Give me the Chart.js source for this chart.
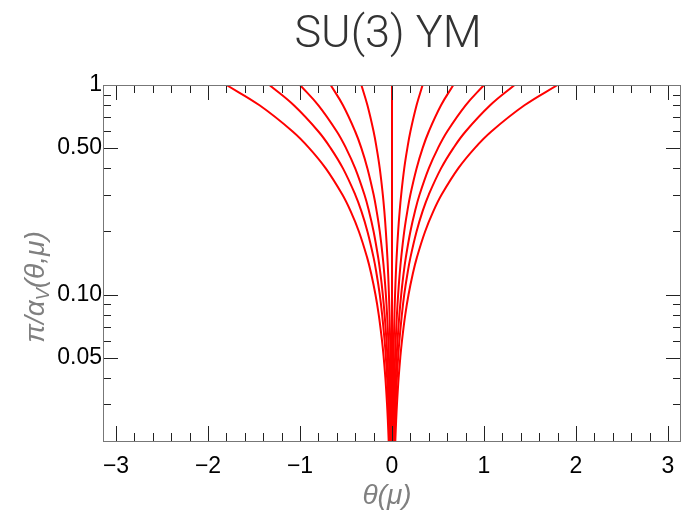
<!DOCTYPE html>
<html>
<head>
<meta charset="utf-8">
<script src="https://cdn.jsdelivr.net/npm/chart.js@4/dist/chart.umd.min.js"></script>
<style>
  html, body { margin: 0; padding: 0; background: #fff; }
</style>
</head>
<body>
<canvas id="fanChart" width="681" height="512"></canvas>
<script>
// --- data ---
const titleText = 'SU(3) YM';
const xTitle = 'θ(μ)';

// y levels shared by every curve
const yLevels = [0.02, 0.025, 0.03, 0.04, 0.05, 0.06, 0.08, 0.1, 0.125, 0.15, 0.2, 0.25, 0.3, 0.4, 0.5, 0.6, 0.8, 1];

// right-hand curves, x at each y level (left ones are the mirror)
const curveA = [0.0067, 0.0083, 0.010, 0.0133, 0.0167, 0.020, 0.0267, 0.0333, 0.0417, 0.050, 0.0667, 0.0833, 0.100, 0.133, 0.167, 0.200, 0.267, 0.333];
const curveB = [0.0133, 0.0167, 0.020, 0.0267, 0.0333, 0.040, 0.0533, 0.0667, 0.0833, 0.100, 0.133, 0.167, 0.200, 0.267, 0.333, 0.400, 0.533, 0.667];
const curveC = [0.020, 0.025, 0.030, 0.040, 0.050, 0.060, 0.080, 0.100, 0.125, 0.150, 0.200, 0.250, 0.300, 0.400, 0.500, 0.600, 0.800, 1.000];
const curveD = [0.0267, 0.0333, 0.040, 0.0533, 0.0667, 0.080, 0.107, 0.133, 0.167, 0.200, 0.267, 0.333, 0.400, 0.533, 0.667, 0.800, 1.067, 1.333];
const curveE = [0.036, 0.045, 0.054, 0.072, 0.090, 0.108, 0.144, 0.180, 0.225, 0.270, 0.360, 0.450, 0.540, 0.720, 0.900, 1.080, 1.440, 1.800];
const centerX = [0, 0];
const centerY = [0.02, 1];

const xMajor = [-3, -2, -1, 0, 1, 2, 3];
const xMinor = [-2.8, -2.6, -2.4, -2.2, -1.8, -1.6, -1.4, -1.2, -0.8, -0.6, -0.4, -0.2,
                0.2, 0.4, 0.6, 0.8, 1.2, 1.4, 1.6, 1.8, 2.2, 2.4, 2.6, 2.8];
const yMajor = [1, 0.5, 0.1, 0.05];
const yMajorLabels = ['1', '0.50', '0.10', '0.05'];
const yMinor = [0.03, 0.04, 0.06, 0.07, 0.08, 0.09, 0.2, 0.3, 0.4, 0.6, 0.7, 0.8, 0.9];

const rightCurves = [curveA, curveB, curveC, curveD, curveE];

function lineSet(points) {
  return {
    data: points,
    showLine: true,
    borderColor: '#ff0000',
    borderWidth: 2,
    pointRadius: 0,
    tension: 0.4,
    fill: false
  };
}

const datasets = [];
rightCurves.forEach((c) => {
  datasets.push(lineSet(yLevels.map((yv, i) => ({x: -c[i], y: yv}))));
  datasets.push(lineSet(yLevels.map((yv, i) => ({x: c[i], y: yv}))));
});
datasets.push(lineSet(centerX.map((xv, i) => ({x: xv, y: centerY[i]}))));

// box, inward ticks and the titles
const boxPlugin = {
  id: 'boxPlugin',
  afterDatasetsDraw(chart) {
    const {ctx, chartArea: a, scales} = chart;
    const sx = scales.x, sy = scales.y;
    const r = (v) => Math.round(v) + 0.5;
    ctx.save();
    ctx.lineWidth = 1;
    ctx.strokeStyle = '#222';
    ctx.beginPath();
    const xt = (v, len) => {
      const p = r(sx.getPixelForValue(v));
      ctx.moveTo(p, a.bottom); ctx.lineTo(p, a.bottom - len);
      ctx.moveTo(p, a.top); ctx.lineTo(p, a.top + len);
    };
    const yt = (v, len) => {
      const p = r(sy.getPixelForValue(v));
      ctx.moveTo(a.left, p); ctx.lineTo(a.left + len, p);
      ctx.moveTo(a.right, p); ctx.lineTo(a.right - len, p);
    };
    xMajor.forEach(v => xt(v, 15));
    xMinor.forEach(v => xt(v, 8));
    yMajor.forEach(v => yt(v, 15));
    yMinor.forEach(v => yt(v, 8));
    ctx.stroke();
    ctx.strokeStyle = '#777';
    ctx.strokeRect(r(a.left), r(a.top), Math.round(a.right - a.left) - 1, Math.round(a.bottom - a.top));
    ctx.restore();
  },
  afterDraw(chart) {
    const ctx = chart.ctx;
    ctx.save();
    // main title
    ctx.fillStyle = '#333';
    ctx.font = '300 45px Roboto';
    ctx.textAlign = 'center';
    ctx.textBaseline = 'alphabetic';
    ctx.fillText(titleText, 388, 47);
    // x title
    ctx.fillStyle = '#808080';
    ctx.font = 'italic 28px "Liberation Sans"';
    ctx.textBaseline = 'middle';
    ctx.fillText(xTitle, 387, 496);
    // y title with subscript
    const big = 'italic 28px "Liberation Sans"';
    const small = 'italic 18px "Liberation Sans"';
    const parts = [['π/α', big, 0], ['V', small, 8], ['(θ,μ)', big, 0]];
    let total = 0;
    parts.forEach(p => { ctx.font = p[1]; total += ctx.measureText(p[0]).width; });
    ctx.translate(36, 287);
    ctx.rotate(-Math.PI / 2);
    ctx.textAlign = 'left';
    let x0 = -total / 2;
    parts.forEach(p => {
      ctx.font = p[1];
      ctx.fillText(p[0], x0, p[2]);
      x0 += ctx.measureText(p[0]).width;
    });
    ctx.restore();
  }
};

const fanChart = new Chart(document.getElementById('fanChart'), {
  type: 'scatter',
  data: { datasets: datasets },
  options: {
    responsive: false,
    animation: false,
    layout: { padding: { top: 85, left: 0, right: 0, bottom: 0 } },
    plugins: { legend: { display: false }, tooltip: { enabled: false }, title: { display: false } },
    scales: {
      x: {
        type: 'linear',
        min: -Math.PI,
        max: Math.PI,
        grid: { display: false },
        border: { display: false },
        afterBuildTicks: (s) => { s.ticks = xMajor.map(v => ({value: v})); },
        afterFit: (s) => { s.height = 71; s.paddingLeft = 0; s.paddingRight = 0; },
        ticks: {
          padding: 4,
          color: '#000',
          font: { family: 'Liberation Sans', size: 23 },
          maxRotation: 0,
          callback: (v) => (v < 0 ? '\u2212' + Math.abs(v) : String(v))
        }
      },
      y: {
        type: 'logarithmic',
        min: 0.02,
        max: 1,
        grid: { display: false },
        border: { display: false },
        afterBuildTicks: (s) => { s.ticks = yMajor.map(v => ({value: v})); },
        afterFit: (s) => { s.width = 103; s.paddingTop = 0; s.paddingBottom = 0; },
        ticks: {
          padding: -7,
          color: '#000',
          font: { family: 'Liberation Sans', size: 23 },
          callback: (v) => yMajorLabels[yMajor.indexOf(v)]
        }
      }
    }
  },
  plugins: [boxPlugin]
});
</script>
</body>
</html>
